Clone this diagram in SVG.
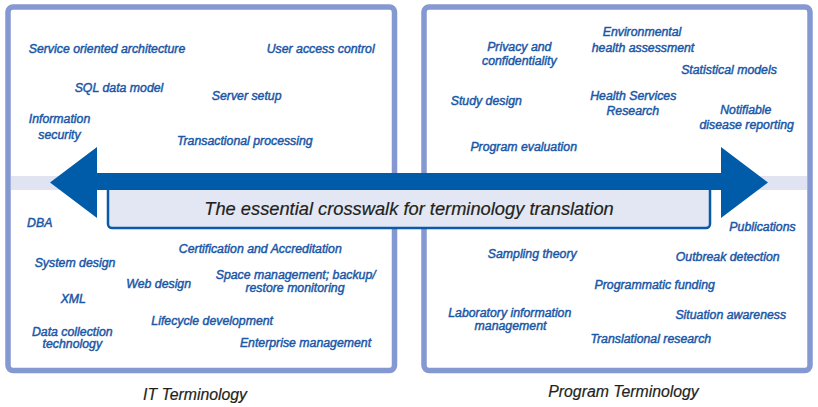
<svg xmlns="http://www.w3.org/2000/svg" width="818" height="407" viewBox="0 0 818 407">
<style>
.panel{fill:#ffffff;stroke:#8499d1;stroke-width:5.5}
.band{fill:#e0e4f2}
.box{fill:#e3e7f4;stroke:#0b5aa7;stroke-width:2.5}
.arrow{fill:#005ba9}
.term{font-family:"Liberation Sans",Arial,sans-serif;font-style:italic;font-size:12.3px;fill:#1a57a7;stroke:#1a57a7;stroke-width:0.45;text-anchor:middle}
.title{font-family:"Liberation Sans",Arial,sans-serif;font-style:italic;font-size:18.3px;fill:#231f20;stroke:#231f20;stroke-width:0.2;text-anchor:middle}
.caption{font-family:"Liberation Sans",Arial,sans-serif;font-style:italic;font-size:15.8px;fill:#231f20;stroke:#231f20;stroke-width:0.2;text-anchor:middle}
</style>
<rect width="818" height="407" fill="#ffffff"/>
<g id="panel-it"><rect class="panel" x="8" y="7" width="386.5" height="363.5" rx="5"/></g>
<g id="panel-program"><rect class="panel" x="424" y="7" width="386" height="363.5" rx="5"/></g>
<g id="band"><rect class="band" x="11" y="176" width="796" height="14"/></g>
<g id="crosswalk-box"><rect class="box" x="108" y="185" width="602" height="43" rx="4"/></g>
<g id="connectors"><polygon class="arrow" points="50,182.5 97,147 97,173 721,173 721,147 768,182.5 721,218 721,190 97,190 97,218"/></g>
<g id="crosswalk-label"><text class="title" x="409" y="215">The essential crosswalk for terminology translation</text></g>
<g id="it-terms">
<g id="t-soa"><text class="term" x="107" y="52.5">Service oriented architecture</text></g>
<g id="t-uac"><text class="term" x="320.7" y="52.5">User access control</text></g>
<g id="t-sql"><text class="term" x="119" y="91.7">SQL data model</text></g>
<g id="t-server"><text class="term" x="246.7" y="99.5">Server setup</text></g>
<g id="t-infosec"><text class="term" x="59.5" y="123.3">Information</text><text class="term" x="59.5" y="139">security</text></g>
<g id="t-trans"><text class="term" x="244.8" y="145">Transactional processing</text></g>
<g id="t-dba"><text class="term" x="39.7" y="226.7">DBA</text></g>
<g id="t-cert"><text class="term" x="260.3" y="252.7">Certification and Accreditation</text></g>
<g id="t-sysdesign"><text class="term" x="75" y="266.7">System design</text></g>
<g id="t-space"><text class="term" x="295.7" y="279.3">Space management; backup/</text><text class="term" x="295" y="291.7">restore monitoring</text></g>
<g id="t-web"><text class="term" x="158.7" y="288.3">Web design</text></g>
<g id="t-xml"><text class="term" x="73.3" y="303.3">XML</text></g>
<g id="t-lifecycle"><text class="term" x="212.2" y="325">Lifecycle development</text></g>
<g id="t-datacoll"><text class="term" x="72.3" y="335.5">Data collection</text><text class="term" x="72.3" y="348">technology</text></g>
<g id="t-enterprise"><text class="term" x="305.5" y="347.3">Enterprise management</text></g>
</g>
<g id="program-terms">
<g id="p-env"><text class="term" x="642" y="36">Environmental</text><text class="term" x="643" y="51.7">health assessment</text></g>
<g id="p-privacy"><text class="term" x="519.3" y="50.7">Privacy and</text><text class="term" x="519.3" y="65.3">confidentiality</text></g>
<g id="p-stat"><text class="term" x="729" y="74">Statistical models</text></g>
<g id="p-study"><text class="term" x="486.3" y="104.7">Study design</text></g>
<g id="p-hsr"><text class="term" x="633.3" y="100">Health Services</text><text class="term" x="632.8" y="114.7">Research</text></g>
<g id="p-notif"><text class="term" x="745.8" y="114">Notifiable</text><text class="term" x="746.7" y="129.3">disease reporting</text></g>
<g id="p-progeval"><text class="term" x="523.7" y="150.7">Program evaluation</text></g>
<g id="p-pub"><text class="term" x="762.5" y="230.7">Publications</text></g>
<g id="p-sampling"><text class="term" x="532.2" y="258.3">Sampling theory</text></g>
<g id="p-outbreak"><text class="term" x="727.7" y="260.7">Outbreak detection</text></g>
<g id="p-funding"><text class="term" x="654.7" y="289.3">Programmatic funding</text></g>
<g id="p-lims"><text class="term" x="509.8" y="317.3">Laboratory information</text><text class="term" x="510.5" y="330">management</text></g>
<g id="p-situation"><text class="term" x="730.8" y="319.3">Situation awareness</text></g>
<g id="p-translational"><text class="term" x="650.8" y="343.3">Translational research</text></g>
</g>
<g id="captions">
<text class="caption" x="195" y="400">IT Terminology</text>
<text class="caption" x="623.5" y="396.5">Program Terminology</text>
</g>
</svg>
